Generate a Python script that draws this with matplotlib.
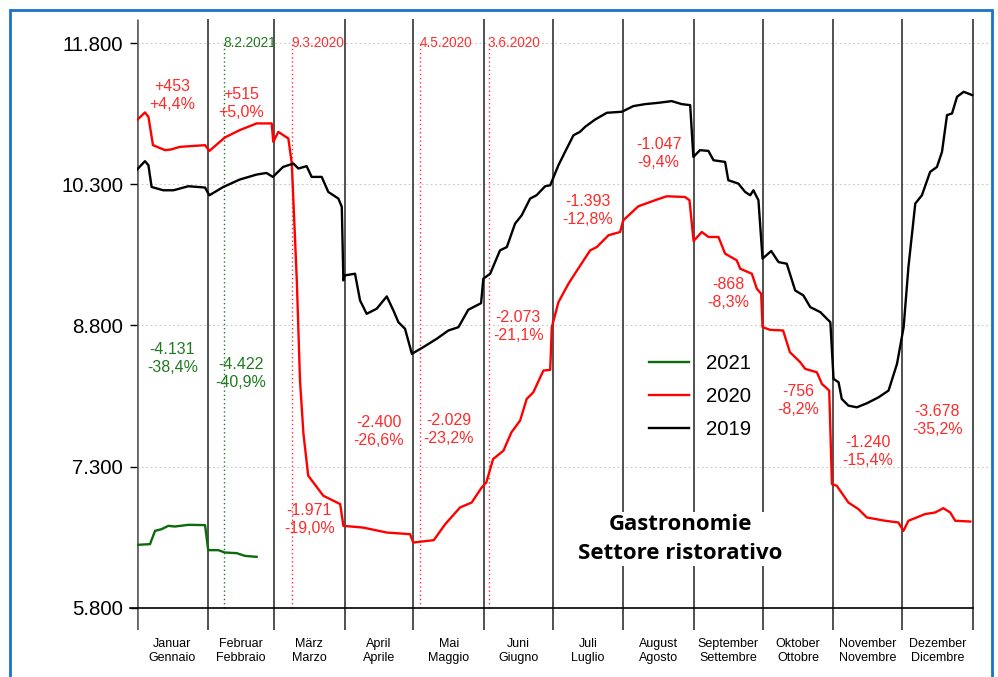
import matplotlib
matplotlib.use("Agg")
import matplotlib.pyplot as plt
from matplotlib.patches import Rectangle
from matplotlib.ticker import FixedLocator

plt.rcParams["font.family"] = ["Liberation Sans", "DejaVu Sans"]

# --- data (day of year, daily value) -----------------------------------------
days_2019 = [0, 3.5, 5, 6.4, 11.5, 16, 22.5, 29.8, 31.7, 37.8, 45, 52.4, 56.7, 59.5, 64,
             68.5, 70.7, 74.3, 76.5, 80.9, 83.8, 88.2, 89.7, 90.4, 91, 95.5, 97.7, 100.6,
             105, 109.4, 112.3, 114.5, 117.4, 120.4, 125.4, 131.3, 136.4, 140.8, 145.1,
             150.7, 151.7, 154.7, 159, 162, 165.6, 168.5, 172.2, 175, 178.8, 181, 184.6,
             187.5, 191.2, 194, 196.3, 200.7, 205.8, 212.4, 217.4, 222.6, 228.4, 234.2,
             238.6, 242.3, 243.7, 246.6, 250.3, 252.5, 257.6, 259, 263.4, 266.4, 268.6,
             270, 272.2, 274, 277.8, 281, 284.6, 288.3, 291.9, 294.9, 299.3, 303.7, 305.1,
             307.3, 308.7, 311.6, 315.3, 319.7, 324.8, 329.2, 332.9, 335.8, 337.9, 340.9,
             343.8, 347.4, 350.4, 352.6, 354.8, 357, 359.2, 362.1, 365.8]
vals_2019 = [10456, 10545, 10502, 10271, 10236, 10236, 10279, 10265, 10183, 10271, 10350,
             10403, 10420, 10378, 10484, 10520, 10467, 10492, 10378, 10378, 10218, 10148,
             10060, 9279, 9332, 9350, 9066, 8924, 8978, 9109, 8960, 8835, 8765, 8499, 8570,
             8659, 8747, 8782, 8967, 9037, 9297, 9350, 9598, 9633, 9882, 9970, 10148, 10183,
             10279, 10289, 10502, 10644, 10821, 10856, 10910, 10988, 11059, 11070, 11130,
             11151, 11165, 11183, 11151, 11140, 10590, 10662, 10654, 10555, 10537, 10343,
             10307, 10218, 10183, 10236, 10130, 9510, 9591, 9473, 9456, 9172, 9119, 8995,
             8942, 8835, 8233, 8197, 8020, 7949, 7931, 7974, 8037, 8109, 8393, 8782, 9420,
             10095, 10183, 10431, 10484, 10644, 11034, 11052, 11229, 11282, 11247]

days_2020 = [0, 3.5, 5, 7, 12.3, 15, 18.8, 29.8, 31.7, 38.5, 45, 52.4, 59, 59.7, 61.9, 66.3,
             67.8, 70, 71.4, 72.9, 75, 81.6, 89, 90.4, 99, 109.4, 119.6, 121, 130, 135,
             141.5, 146.6, 151, 153, 156, 160.5, 164, 167.8, 170.7, 173.6, 178, 181, 181.7,
             184.6, 189, 192, 198.5, 201.4, 206.5, 211.6, 213, 219.6, 227.7, 232, 240, 242,
             243.8, 247.4, 250.3, 254.7, 257.6, 262.7, 264.2, 269.3, 271.5, 273.4, 274,
             277.3, 283, 286, 290.5, 292.7, 297.8, 300, 303.2, 304.4, 306.5, 311.6, 316,
             319.7, 327.7, 333.5, 335.7, 337.9, 345.2, 349.6, 353.2, 356.2, 358.4, 365]
vals_2020 = [10981, 11063, 11016, 10715, 10662, 10670, 10697, 10715, 10654, 10797, 10875,
             10946, 10946, 10750, 10856, 10786, 10520, 9279, 8215, 7651, 7205, 6992, 6903,
             6672, 6654, 6601, 6584, 6495, 6520, 6690, 6867, 6920, 7080, 7133, 7382, 7470,
             7665, 7790, 8020, 8091, 8321, 8329, 8782, 9048, 9244, 9357, 9598, 9633, 9758,
             9793, 9917, 10066, 10137, 10172, 10165, 10130, 9697, 9793, 9740, 9740, 9563,
             9492, 9403, 9350, 9190, 9137, 8782, 8754, 8747, 8516, 8410, 8339, 8303, 8180,
             8109, 7116, 7098, 6920, 6850, 6761, 6726, 6708, 6619, 6726, 6797, 6814, 6860,
             6814, 6726, 6718]

days_2021 = [0, 5.7, 7.9, 10.8, 13.7, 16.6, 22.5, 29.8, 31.2, 35.6, 38.5, 43.7, 47.3, 52.4]
vals_2021 = [6470, 6478, 6619, 6637, 6672, 6665, 6683, 6680, 6414, 6414, 6389, 6382, 6353, 6343]

month_starts = [0, 31, 60, 91, 121, 152, 182, 213, 244, 274, 305, 335, 366]
month_labels = ["Januar\nGennaio", "Februar\nFebbraio", "März\nMarzo", "April\nAprile",
                "Mai\nMaggio", "Juni\nGiugno", "Juli\nLuglio", "August\nAgosto",
                "September\nSettembre", "Oktober\nOttobre", "November\nNovembre",
                "Dezember\nDicembre"]

yticks = [5800, 7300, 8800, 10300, 11800]
ytick_labels = ["5.800", "7.300", "8.800", "10.300", "11.800"]

# monthly differences 2020 vs 2019 (and 2021 vs 2020)
diff_2020 = ["+453\n+4,4%", "+515\n+5,0%", "-1.971\n-19,0%", "-2.400\n-26,6%",
             "-2.029\n-23,2%", "-2.073\n-21,1%", "-1.393\n-12,8%", "-1.047\n-9,4%",
             "-868\n-8,3%", "-756\n-8,2%", "-1.240\n-15,4%", "-3.678\n-35,2%"]
diff_2020_y = [11247, 11162, 6736, 7672, 7694, 8789, 10024, 10630, 9140, 8002, 7460, 7790]
diff_2021 = ["-4.131\n-38,4%", "-4.422\n-40,9%"]
diff_2021_y = [8449, 8290]

events = [(38, "8.2.2021", "#1f7a1f"), (68, "9.3.2020", "#ff3030"),
          (124, "4.5.2020", "#ff3030"), (154, "3.6.2020", "#ff3030")]

C19, C20, C21 = "black", "#ff0000", "#0b6b0b"
C_TXT20, C_TXT21 = "#ff2a2a", "#1f7a1f"

# --- layout -------------------------------------------------------------------
W, H = 998, 677
fig = plt.figure(figsize=(W / 100, H / 100), dpi=100)
ax = fig.add_axes([137 / W, 1 - 630 / H, (992 - 137) / W, (630 - 19) / H])
XMAX = (992 - 137) / 2.283
YMIN, YMAX = 5566, 12055
ax.set_xlim(0, XMAX)
ax.set_ylim(YMIN, YMAX)
for s in ax.spines.values():
    s.set_visible(False)

# grid and axis line
for yv in yticks[1:]:
    ax.axhline(yv, color="#c8c8c8", lw=0.8, linestyle=(0, (1.5, 2.5)), zorder=0)
ax.plot([-3, 366], [5800, 5800], color="black", lw=1.2, clip_on=False, zorder=2)

# month boundaries
ax.vlines(month_starts[1:], YMIN, YMAX, color="#222", lw=1.1, zorder=1)
ax.vlines([0], YMIN, YMAX, color="#666", lw=2.0, zorder=1)

# event markers
for d, lab, col in events:
    ax.vlines(d, 5800, 11800, color=col, lw=1.0, linestyle=(0, (1, 2)), zorder=1)
    ax.text(d - 0.3, 11800, lab, color=col, fontsize=9.8, ha="left", va="center", zorder=3)

# series
ax.plot(days_2021, vals_2021, color=C21, lw=1.7, label="2021", zorder=4)
ax.plot(days_2020, vals_2020, color=C20, lw=1.7, label="2020", zorder=4)
ax.plot(days_2019, vals_2019, color=C19, lw=1.7, label="2019", zorder=4)

# monthly difference labels
mids = [(a + b) / 2 for a, b in zip(month_starts[:-1], month_starts[1:])]
for m, t, yv in zip(mids, diff_2020, diff_2020_y):
    ax.text(m, yv, t, color=C_TXT20, fontsize=11.5, ha="center", va="center",
            linespacing=1.25, zorder=5)
for m, t, yv in zip(mids, diff_2021, diff_2021_y):
    ax.text(m, yv, t, color=C_TXT21, fontsize=11.5, ha="center", va="center",
            linespacing=1.25, zorder=5)

# ticks
ax.yaxis.set_major_locator(FixedLocator(yticks))
ax.set_yticklabels(ytick_labels, fontsize=14.7)
ax.tick_params(axis="y", length=5, width=1, pad=5, color="black")
ax.set_xticks(mids)
ax.set_xticklabels(month_labels, fontsize=9, linespacing=1.15)
ax.tick_params(axis="x", length=0, pad=6)

# legend
leg = ax.legend(loc="upper left", bbox_to_anchor=(649 / W, 1 - 354 / H),
                bbox_transform=fig.transFigure, frameon=False, fontsize=14.7,
                handlelength=1.95, handletextpad=0.85, labelspacing=0.68,
                borderpad=0, borderaxespad=0)

# title box
ax.text(680 / W, 1 - 539 / H, "Gastronomie\nSettore ristorativo", transform=fig.transFigure,
        fontsize=16, fontweight="bold", family=["Open Sans", "DejaVu Sans"],
        ha="center", va="center", linespacing=1.5, zorder=6,
        bbox=dict(boxstyle="square,pad=0.1", facecolor="white", edgecolor="none"))

# blue frame
fig.patches.append(Rectangle((10 / W, -0.02), (992 - 10) / W, 1.02 - 10 / H,
                             transform=fig.transFigure, fill=False,
                             edgecolor="#1a74c6", lw=2.0))

fig.savefig("out.png", dpi=100, facecolor="white")
